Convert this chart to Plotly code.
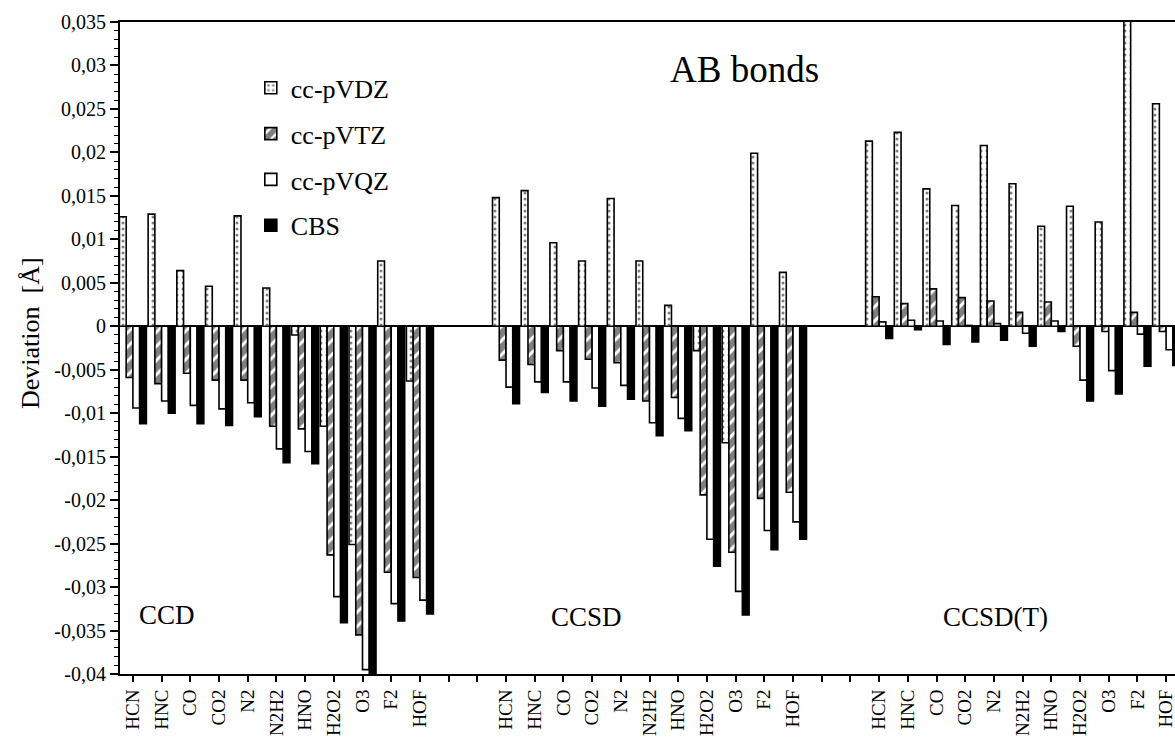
import plotly.graph_objects as go

molecules = ["HCN", "HNC", "CO", "CO2", "N2", "N2H2", "HNO", "H2O2", "O3", "F2", "HOF"]
methods = ["CCD", "CCSD", "CCSD(T)"]
basis_names = ["cc-pVDZ", "cc-pVTZ", "cc-pVQZ", "CBS"]

# Deviations (Angstrom), per method, in molecule order
ccd_vdz = [0.0126, 0.0129, 0.0064, 0.0046, 0.0127, 0.0044, -0.0010, -0.0115, -0.0251, 0.0075, -0.0063]
ccd_vtz = [-0.0059, -0.0066, -0.0054, -0.0062, -0.0062, -0.0115, -0.0118, -0.0263, -0.0355, -0.0283, -0.0289]
ccd_vqz = [-0.0094, -0.0086, -0.0091, -0.0095, -0.0088, -0.0141, -0.0144, -0.0311, -0.0395, -0.0319, -0.0315]
ccd_cbs = [-0.0112, -0.0100, -0.0112, -0.0114, -0.0104, -0.0157, -0.0158, -0.0341, -0.0415, -0.0339, -0.0331]

ccsd_vdz = [0.0148, 0.0156, 0.0096, 0.0075, 0.0147, 0.0075, 0.0024, -0.0028, -0.0134, 0.0199, 0.0062]
ccsd_vtz = [-0.0039, -0.0044, -0.0028, -0.0038, -0.0042, -0.0086, -0.0082, -0.0194, -0.0260, -0.0198, -0.0191]
ccsd_vqz = [-0.0070, -0.0064, -0.0064, -0.0071, -0.0068, -0.0111, -0.0106, -0.0245, -0.0305, -0.0235, -0.0225]
ccsd_cbs = [-0.0089, -0.0076, -0.0086, -0.0092, -0.0084, -0.0126, -0.0120, -0.0276, -0.0332, -0.0257, -0.0245]

ccsdt_vdz = [0.0213, 0.0223, 0.0158, 0.0139, 0.0208, 0.0164, 0.0115, 0.0138, 0.0120, 0.0360, 0.0256]
ccsdt_vtz = [0.0034, 0.0026, 0.0043, 0.0033, 0.0029, 0.0016, 0.0028, -0.0023, -0.0006, 0.0016, -0.0006]
ccsdt_vqz = [0.0005, 0.0007, 0.0006, 0.0001, 0.0003, -0.0008, 0.0006, -0.0062, -0.0051, -0.0009, -0.0027]
ccsdt_cbs = [-0.0014, -0.0004, -0.0021, -0.0018, -0.0016, -0.0023, -0.0006, -0.0086, -0.0078, -0.0046, -0.0045]

y_tickvals = [0.035, 0.03, 0.025, 0.02, 0.015, 0.01, 0.005, 0, -0.005, -0.01, -0.015,
              -0.02, -0.025, -0.03, -0.035, -0.04]
y_ticktext = ["0,035", "0,03", "0,025", "0,02", "0,015", "0,01", "0,005", "0", "-0,005", "-0,01",
              "-0,015", "-0,02", "-0,025", "-0,03", "-0,035", "-0,04"]

GAP = 2  # blank category slots between method blocks

positions = []
tick_pos = []
tick_txt = []
pos = 0
for m_i, m in enumerate(methods):
    for mol in molecules:
        positions.append(pos)
        tick_pos.append(pos)
        tick_txt.append(mol)
        pos += 1
    if m_i < len(methods) - 1:
        for _ in range(GAP):
            tick_pos.append(pos)
            tick_txt.append("")
            pos += 1

series = [
    ccd_vdz + ccsd_vdz + ccsdt_vdz,
    ccd_vtz + ccsd_vtz + ccsdt_vtz,
    ccd_vqz + ccsd_vqz + ccsdt_vqz,
    ccd_cbs + ccsd_cbs + ccsdt_cbs,
]

FONT = "Liberation Serif, Times New Roman, serif"

styles = [
    dict(color="white", line=dict(color="black", width=1.6),
         pattern=dict(shape=".", fgcolor="black", bgcolor="white", size=6, solidity=0.2)),
    dict(color="white", line=dict(color="black", width=1.6),
         pattern=dict(shape="/", fgcolor="black", bgcolor="white", size=10, solidity=0.7)),
    dict(color="white", line=dict(color="black", width=1.6)),
    dict(color="black", line=dict(color="black", width=1.6)),
]

fig = go.Figure()
for name, vals, st in zip(basis_names, series, styles):
    fig.add_trace(go.Bar(x=positions, y=vals, name=name, marker=st, legendgroup=name))

fig.update_layout(
    width=1175, height=739,
    margin=dict(l=120, r=0, t=22, b=65, autoexpand=False),
    paper_bgcolor="white", plot_bgcolor="white",
    barmode="group", bargap=0.06, bargroupgap=0,
    font=dict(family=FONT, color="black", size=20),
    showlegend=True,
    legend=dict(x=0.124, y=0.935, xanchor="left", yanchor="top",
                font=dict(family=FONT, size=26, color="black"),
                bgcolor="rgba(0,0,0,0)", tracegroupgap=9),
    xaxis=dict(range=[-0.45, 36.31], tickmode="array", tickvals=tick_pos, ticktext=tick_txt,
               tickangle=-90, ticks="outside", ticklen=6, tickwidth=2, tickcolor="black",
               ticklabeloverflow="allow",
               showline=True, linecolor="black", linewidth=2, mirror=True,
               showgrid=False, zeroline=False,
               tickfont=dict(family=FONT, size=19, color="black")),
    yaxis=dict(range=[-0.04, 0.035], tickmode="array", tickvals=y_tickvals, ticktext=y_ticktext,
               ticks="outside", ticklen=8, tickwidth=1.5, tickcolor="black",
               minor=dict(dtick=0.001, tick0=0, ticks="outside", ticklen=4, tickwidth=1, tickcolor="black"),
               showline=True, linecolor="black", linewidth=2, mirror=False,
               showgrid=False, zeroline=True, zerolinecolor="black", zerolinewidth=1.5,
               tickfont=dict(family=FONT, size=20, color="black")),
    annotations=[
        dict(text="AB bonds", x=21.3, y=0.0295, xref="x", yref="y", showarrow=False,
             font=dict(family=FONT, size=37, color="black")),
        dict(text="CCD", x=1.18, y=-0.0332, xref="x", yref="y", showarrow=False,
             font=dict(family=FONT, size=27, color="black")),
        dict(text="CCSD", x=15.8, y=-0.0335, xref="x", yref="y", showarrow=False,
             font=dict(family=FONT, size=27, color="black")),
        dict(text="CCSD(T)", x=30.07, y=-0.0335, xref="x", yref="y", showarrow=False,
             font=dict(family=FONT, size=27, color="black")),
        dict(text="Deviation\u00a0\u00a0[Å]", x=-0.0853, y=0.523, xref="paper", yref="paper",
             showarrow=False, textangle=-90, xanchor="center", yanchor="middle",
             font=dict(family=FONT, size=26, color="black")),
    ],
)

fig.write_html("out.html")
